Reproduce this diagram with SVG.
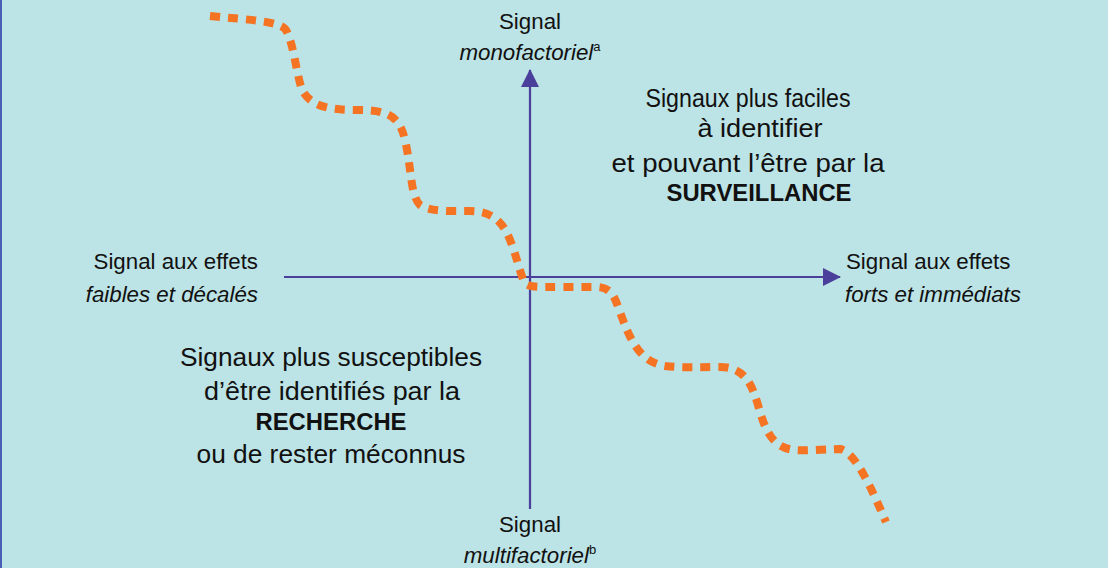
<svg xmlns="http://www.w3.org/2000/svg" width="1114" height="568" viewBox="0 0 1114 568">
<style>
.lbl{font-family:"Liberation Sans",Arial,sans-serif;font-size:22.3px;fill:#111}
.q{font-family:"Liberation Sans",Arial,sans-serif;font-size:25px;fill:#111;text-anchor:middle}
.b{font-weight:bold;font-size:24px}
.it{font-style:italic}
.axis{stroke:#4a3f9b;stroke-width:2.2;fill:none}
.curve{stroke:#f47424;stroke-width:8;fill:none;stroke-dasharray:10 8}
</style>
<defs>
<marker id="ah" viewBox="0 0 18 18" refX="17" refY="9" markerWidth="18" markerHeight="18" markerUnits="userSpaceOnUse" orient="auto">
<path d="M0,0 L18,9 L0,18 Z" fill="#4a3f9b"/>
</marker>
</defs>
<rect x="0" y="0" width="1114" height="568" fill="#ffffff"/>
<rect x="0" y="0" width="1108" height="568" fill="#bce3e5"/>
<rect x="0" y="0" width="2" height="568" fill="#4a5fb5"/>
<g id="connectors">
<line class="axis" x1="530" y1="509" x2="530" y2="70" marker-end="url(#ah)"/>
<line class="axis" x1="284" y1="277" x2="840" y2="277" marker-end="url(#ah)"/>
<path class="curve" d="M210,16 C250,20 280,21 286,30 C294,45 296,72 302,90 C312,108 332,110 360,110 C390,110 400,118 405,140 C412,170 410,195 420,205 C430,212 450,211 470,211 C495,211 505,225 512,245 C518,262 520,272 524,282 C528,288 540,287 560,287 L598,287 C612,288 615,298 620,312 C630,340 640,362 665,366 C680,368 700,367 720,367 C745,367 752,385 758,405 C765,430 772,448 795,450 C810,451 830,449 840,449 C855,452 870,485 886,522"/>
</g>
<g id="top-label">
<text class="lbl" x="530" y="29" text-anchor="middle">Signal</text>
<text class="lbl" x="530" y="60" text-anchor="middle"><tspan class="it">monofactoriel</tspan><tspan font-size="13" dy="-9">a</tspan></text>
</g>
<g id="bottom-label">
<text class="lbl" x="530" y="532" text-anchor="middle">Signal</text>
<text class="lbl" x="530" y="563" text-anchor="middle"><tspan class="it">multifactoriel</tspan><tspan font-size="13" dy="-9">b</tspan></text>
</g>
<g id="left-label">
<text class="lbl" x="258" y="269" text-anchor="end">Signal aux effets</text>
<text class="lbl it" x="258" y="302" text-anchor="end">faibles et décalés</text>
</g>
<g id="right-label">
<text class="lbl" x="846" y="269">Signal aux effets</text>
<text class="lbl it" x="845" y="302">forts et immédiats</text>
</g>
<g id="quadrant-top-right">
<text class="q" x="748" y="107" textLength="205" lengthAdjust="spacingAndGlyphs">Signaux plus faciles</text>
<text class="q" x="760" y="137" textLength="125" lengthAdjust="spacingAndGlyphs">à identifier</text>
<text class="q" x="748" y="172" textLength="273" lengthAdjust="spacingAndGlyphs">et pouvant l’être par la</text>
<text class="q b" x="759" y="201" textLength="185" lengthAdjust="spacingAndGlyphs">SURVEILLANCE</text>
</g>
<g id="quadrant-bottom-left">
<text class="q" x="331" y="366" textLength="302" lengthAdjust="spacingAndGlyphs">Signaux plus susceptibles</text>
<text class="q" x="332" y="400" textLength="256" lengthAdjust="spacingAndGlyphs">d’être identifiés par la</text>
<text class="q b" x="331" y="430" textLength="151" lengthAdjust="spacingAndGlyphs">RECHERCHE</text>
<text class="q" x="331" y="463" textLength="269" lengthAdjust="spacingAndGlyphs">ou de rester méconnus</text>
</g>
</svg>
